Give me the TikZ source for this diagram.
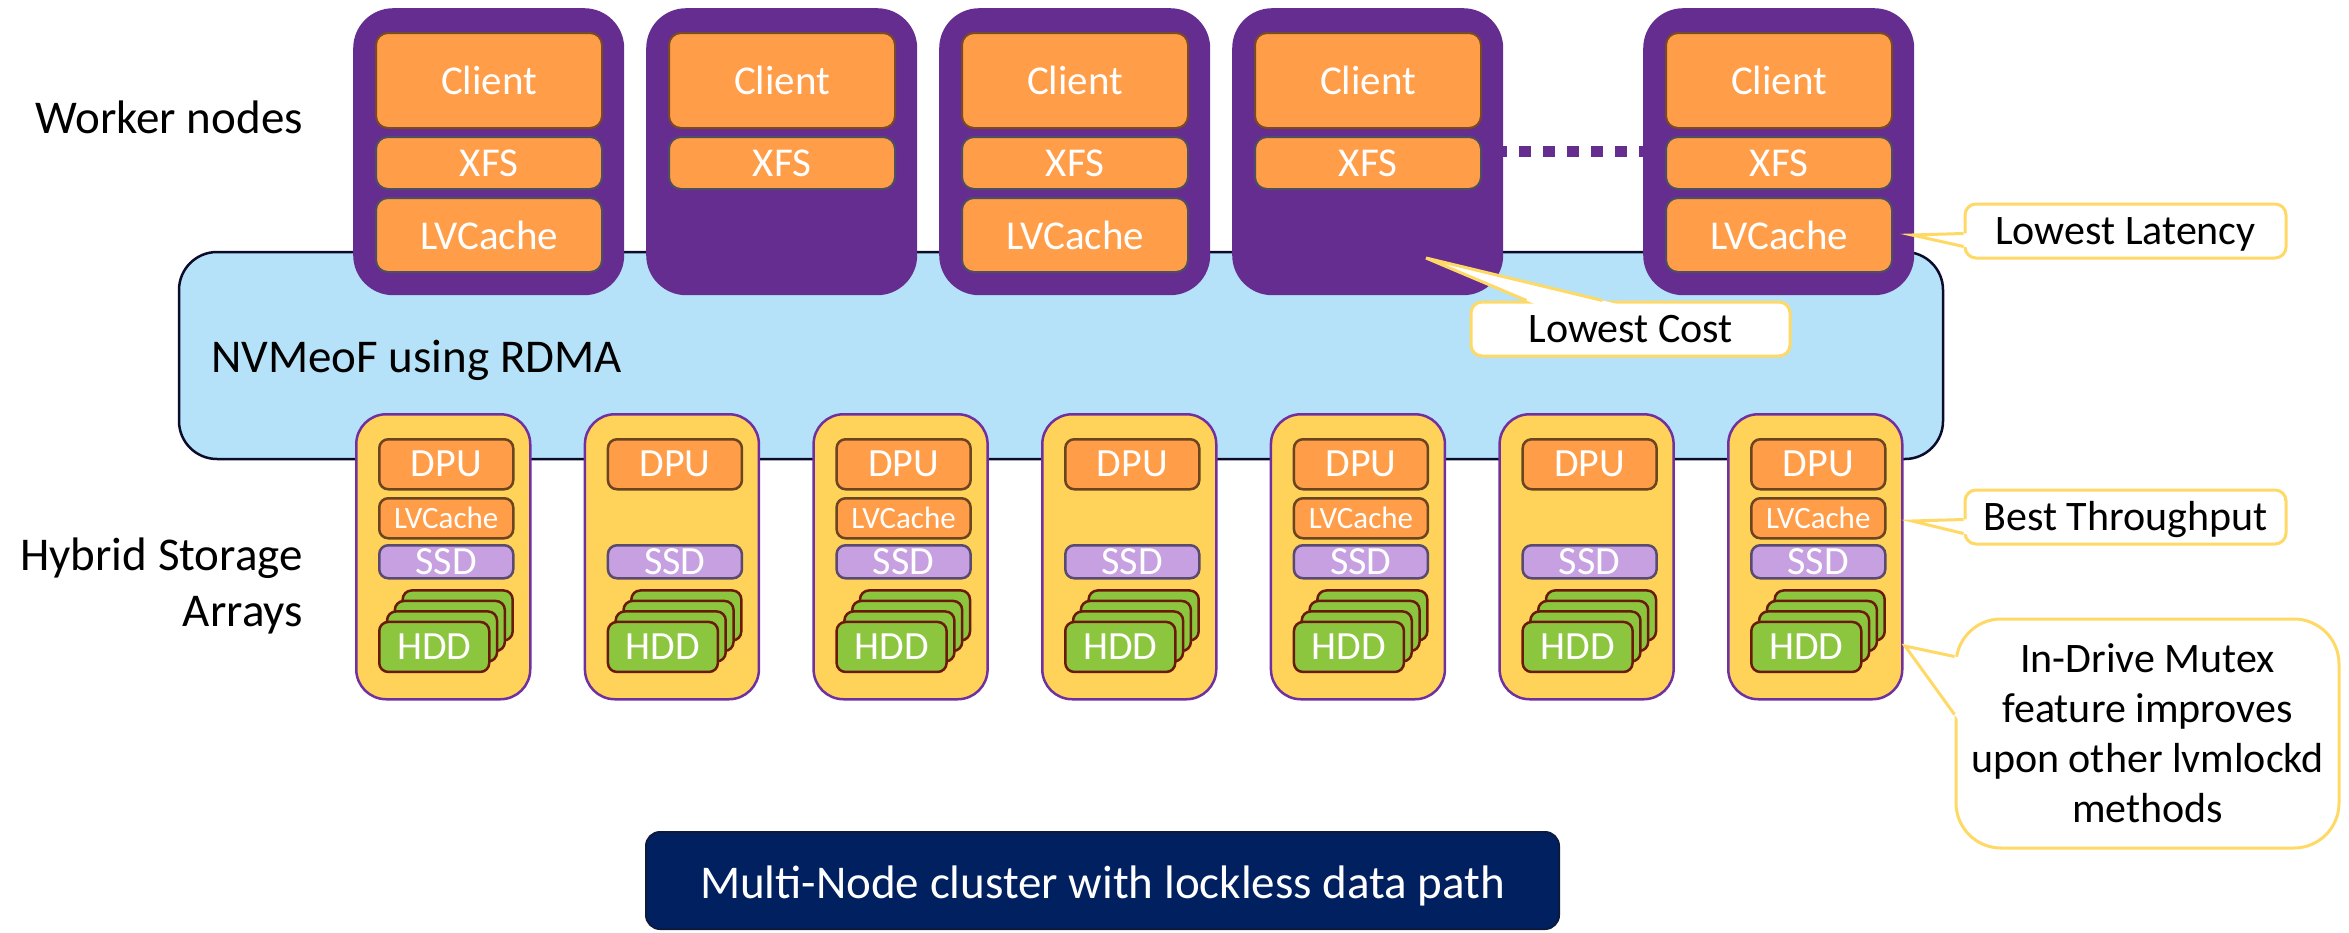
\documentclass[tikz,border=0pt]{standalone}
\usepackage{fontspec}
\setmainfont{Carlito}
\usetikzlibrary{calc}

\definecolor{wpurple}{HTML}{662D91}
\definecolor{lorange}{HTML}{FF9D48}
\definecolor{cborder}{HTML}{7A4A22}
\definecolor{gborder}{HTML}{4F4F5F}
\definecolor{sgold}{HTML}{FFD25A}
\definecolor{spurple}{HTML}{7030A0}
\definecolor{sbrown}{HTML}{6B4520}
\definecolor{lilac}{HTML}{C6A0E0}
\definecolor{sslate}{HTML}{5A4A70}
\definecolor{hgreen}{HTML}{8CC63F}
\definecolor{hborder}{HTML}{6A1A08}
\definecolor{fabricblue}{HTML}{B5E2F8}
\definecolor{fabricedge}{HTML}{0B0B2B}
\definecolor{nyellow}{HTML}{FFD966}
\definecolor{navy}{HTML}{002060}
\definecolor{navyedge}{HTML}{0C1A40}

\newcommand{\pt}[1]{\fontsize{#1}{#1}\selectfont}

\begin{document}
\begin{tikzpicture}[x=1pt,y=-1pt,
  wnode/.style={fill=wpurple, rounded corners=40pt, minimum width=271pt,
    minimum height=287pt, anchor=north west, inner sep=0pt},
  wlayer/.style={fill=lorange, line width=2pt, rounded corners=12pt,
    minimum width=226pt, anchor=north west, inner sep=0pt, text=white,
    font=\pt{41}},
  snode/.style={fill=sgold, draw=spurple, line width=2.5pt, rounded corners=30pt,
    minimum width=174pt, minimum height=285pt, anchor=north west, inner sep=0pt},
  slayer/.style={line width=2.5pt, rounded corners=9pt, minimum width=134pt,
    anchor=north west, inner sep=0pt, text=white},
  hdd/.style={fill=hgreen, draw=hborder, line width=2.5pt, rounded corners=9pt,
    minimum width=110pt, minimum height=50pt, anchor=north west, inner sep=0pt,
    text=white, font=\pt{40}},
  note/.style={fill=white, draw=nyellow, line width=3pt, rounded corners=11pt,
    inner sep=0pt, text=black, font=\fontsize{42}{50}\selectfont, align=center},
  oneline/.style={text height=27pt, text depth=0pt},
  pointer/.style={draw=nyellow, line width=3pt},
  sidelabel/.style={inner sep=0pt, text=black, font=\fontsize{47}{56}\selectfont},
  dotline/.style={draw=wpurple, line width=11pt, dash pattern=on 12pt off 12pt,
    dash phase=8pt},
]
\useasboundingbox (0,0) rectangle (2349,932);

% fabric that links the worker nodes and the storage arrays
\node[fill=fabricblue, draw=fabricedge, line width=2.5pt, rounded corners=38pt,
  minimum width=1764pt, minimum height=207pt, inner sep=0pt] (fabric) at (1061,355.5) {};
\node[sidelabel, anchor=base west] (fabriclabel) at (211,372) {NVMeoF using RDMA};

% row labels
\node[sidelabel, anchor=base east] (workerlabel) at (303,133) {Worker nodes};
\node[sidelabel, anchor=base east, align=right] (storagelabel) at (303,626)
  {Hybrid Storage\\Arrays};

% worker nodes
\foreach \i/\x/\cache in {1/353/1, 2/646/0, 3/939/1, 4/1232/0, 5/1643/1} {
  \node[wnode] (w\i) at (\x,8) {};
  \node[wlayer, draw=cborder, minimum height=95pt] (w\i-client) at (\x+22,32) {Client};
  \node[wlayer, draw=gborder, minimum height=52pt] (w\i-xfs) at (\x+22,136) {XFS};
  \ifnum\cache=1
    \node[wlayer, draw=gborder, minimum height=74pt] (w\i-cache) at (\x+22,197) {LVCache};
  \fi
}
\draw[dotline] (w4.east) -- (w5.west);

% hybrid storage arrays
\foreach \i in {0,...,6} {
  \pgfmathsetmacro\sx{355+228.67*\i}
  \node[snode] (s\i) at (\sx,413) {};
  \node[slayer, fill=lorange, draw=sbrown, minimum height=50pt, font=\pt{40}]
    (s\i-dpu) at (\sx+23,438) {DPU};
  \ifodd\i\else
    \node[slayer, fill=lorange, draw=sbrown, minimum height=40pt, font=\pt{31}]
      (s\i-cache) at (\sx+23,497) {LVCache};
  \fi
  \node[slayer, fill=lilac, draw=sslate, minimum height=33pt, font=\pt{40}]
    (s\i-ssd) at (\sx+23,544) {SSD};
  \foreach \k in {3,2,1}
    \node[hdd] (s\i-hdd\k) at (\sx+23+7.8*\k,620.7-10.5*\k) {};
  \node[hdd] (s\i-hdd0) at (\sx+23,620.7) {HDD};
}

% callouts
\node[note, oneline, minimum width=319pt, minimum height=54pt] (cost) at (1630.5,329) {Lowest Cost};
\coordinate (costtip) at (1426,258);
\coordinate (costa) at ($(cost.north west)+(57,0)$);
\coordinate (costb) at ($(cost.north west)+(133,0)$);

\node[note, oneline, minimum width=321pt, minimum height=54pt] (latency) at (2125.5,231) {Lowest Latency};
\coordinate (latencytip) at (1912,235);
\coordinate (latencya) at ($(latency.north west)+(0,31)$);
\coordinate (latencyb) at ($(latency.north west)+(0,44)$);

\node[note, oneline, minimum width=321pt, minimum height=54pt] (throughput) at (2125.5,517) {Best Throughput};
\coordinate (throughputtip) at (1912,521);
\coordinate (throughputa) at ($(throughput.north west)+(0,31)$);
\coordinate (throughputb) at ($(throughput.north west)+(0,45)$);

\node[note, rounded corners=45pt, minimum width=383pt, minimum height=229pt] (mutex)
  at (2147.5,733.5) {In-Drive Mutex\\feature improves\\upon other lvmlockd\\methods};
\coordinate (mutextip) at (1905,646);
\coordinate (mutexa) at ($(mutex.north west)+(0,39)$);
\coordinate (mutexb) at ($(mutex.north west)+(0,97)$);

\foreach \n in {cost,latency,throughput,mutex} {
  \fill[white] (\n tip) -- ($(\n tip)!1.1!(\n a)$) -- ($(\n tip)!1.1!(\n b)$) -- cycle;
  \draw[pointer] (\n a) -- (\n tip) -- (\n b);
}

% caption banner
\node[fill=navy, draw=navyedge, line width=2pt, rounded corners=14pt,
  minimum width=913pt, minimum height=97pt, inner sep=0pt, text=white,
  text height=35pt, text depth=0pt, font=\pt{47}] (caption) at (1102.5,880.5)
  {Multi-Node cluster with lockless data path};
\end{tikzpicture}
\end{document}
